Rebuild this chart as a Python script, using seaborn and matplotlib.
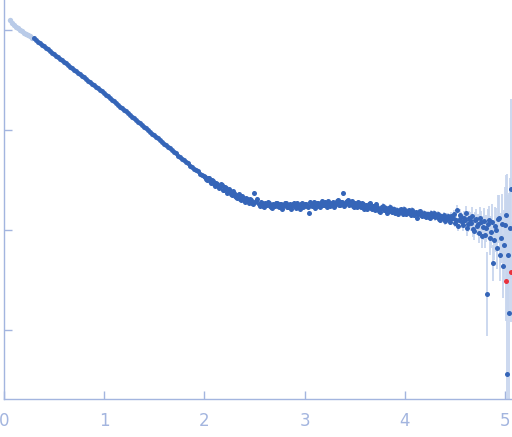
import numpy as np
import pandas as pd
import matplotlib
matplotlib.use("Agg")
import matplotlib.pyplot as plt
import seaborn as sns

# ---- data (q in nm^-1, log10 intensity, log10 error half-width) ----
q_light = [0.06, 0.08, 0.10, 0.12, 0.14, 0.16, 0.18, 0.20, 0.22, 0.24, 0.26, 0.28]
logI_light = [0.095, 0.065, 0.045, 0.030, 0.015, 0.000, -0.013, -0.027, -0.040, -0.052, -0.065, -0.078]

q_main = [
    0.30, 0.32, 0.34, 0.36, 0.38, 0.40, 0.42, 0.44, 0.46, 0.48,
    0.50, 0.52, 0.54, 0.56, 0.58, 0.60, 0.62, 0.64, 0.66, 0.68,
    0.70, 0.72, 0.74, 0.76, 0.78, 0.80, 0.82, 0.84, 0.86, 0.88,
    0.90, 0.92, 0.94, 0.96, 0.98, 1.00, 1.02, 1.04, 1.06, 1.08,
    1.10, 1.12, 1.14, 1.16, 1.18, 1.20, 1.22, 1.24, 1.26, 1.28,
    1.30, 1.32, 1.34, 1.36, 1.38, 1.40, 1.42, 1.44, 1.46, 1.48,
    1.50, 1.52, 1.54, 1.56, 1.58, 1.60, 1.62, 1.64, 1.66, 1.68,
    1.70, 1.72, 1.74, 1.76, 1.78, 1.80, 1.82, 1.84, 1.86, 1.88,
    1.90, 1.92, 1.94, 1.96, 1.98, 2.00, 2.02, 2.04, 2.06, 2.08,
    2.10, 2.12, 2.14, 2.16, 2.18, 2.20, 2.22, 2.24, 2.26, 2.28,
    2.30, 2.32, 2.34, 2.36, 2.38, 2.40, 2.42, 2.44, 2.46, 2.48,
    2.50, 2.52, 2.54, 2.56, 2.58, 2.60, 2.62, 2.64, 2.66, 2.68,
    2.70, 2.72, 2.74, 2.76, 2.78, 2.80, 2.82, 2.84, 2.86, 2.88,
    2.90, 2.92, 2.94, 2.96, 2.98, 3.00, 3.02, 3.04, 3.06, 3.08,
    3.10, 3.12, 3.14, 3.16, 3.18, 3.20, 3.22, 3.24, 3.26, 3.28,
    3.30, 3.32, 3.34, 3.36, 3.38, 3.40, 3.42, 3.44, 3.46, 3.48,
    3.50, 3.52, 3.54, 3.56, 3.58, 3.60, 3.62, 3.64, 3.66, 3.68,
    3.70, 3.72, 3.74, 3.76, 3.78, 3.80, 3.82, 3.84, 3.86, 3.88,
    3.90, 3.92, 3.94, 3.96, 3.98, 4.00, 4.02, 4.04, 4.06, 4.08,
    4.10, 4.12, 4.14, 4.16, 4.18, 4.20, 4.22, 4.24, 4.26, 4.28,
    4.30, 4.32, 4.34, 4.36, 4.38, 4.40, 4.42, 4.44, 4.46, 4.48,
    4.50, 4.52, 4.54, 4.56, 4.58, 4.60, 4.62, 4.64, 4.66, 4.68,
    4.70, 4.72, 4.74, 4.76, 4.78, 4.80, 4.82, 4.84, 4.86, 4.88,
    4.90, 4.92, 4.94, 4.96, 4.98, 5.00, 5.02, 5.04, 5.06,
]
logI_main = [
    -0.085, -0.100, -0.117, -0.131, -0.147, -0.163, -0.178, -0.195, -0.209, -0.226,
    -0.241, -0.257, -0.272, -0.289, -0.303, -0.319, -0.335, -0.350, -0.367, -0.381,
    -0.397, -0.413, -0.428, -0.445, -0.459, -0.475, -0.491, -0.506, -0.523, -0.537,
    -0.553, -0.569, -0.584, -0.601, -0.615, -0.631, -0.648, -0.664, -0.682, -0.698,
    -0.715, -0.733, -0.748, -0.766, -0.782, -0.800, -0.815, -0.834, -0.849, -0.867,
    -0.882, -0.901, -0.916, -0.934, -0.950, -0.968, -0.983, -1.002, -1.016, -1.036,
    -1.050, -1.069, -1.080, -1.104, -1.117, -1.136, -1.148, -1.172, -1.183, -1.203,
    -1.220, -1.232, -1.257, -1.268, -1.290, -1.300, -1.322, -1.335, -1.360, -1.366,
    -1.392, -1.404, -1.415, -1.440, -1.447, -1.465, -1.490, -1.478, -1.512, -1.505,
    -1.545, -1.528, -1.560, -1.575, -1.552, -1.600, -1.585, -1.620, -1.610, -1.655,
    -1.630, -1.672, -1.648, -1.690, -1.665, -1.700, -1.678, -1.715, -1.690, -1.735,
    -1.630, -1.712, -1.745, -1.720, -1.760, -1.728, -1.752, -1.735, -1.770, -1.738,
    -1.760, -1.735, -1.775, -1.745, -1.762, -1.730, -1.770, -1.748, -1.790, -1.742,
    -1.765, -1.732, -1.768, -1.745, -1.775, -1.738, -1.760, -1.830, -1.755, -1.740,
    -1.785, -1.728, -1.762, -1.735, -1.752, -1.725, -1.770, -1.738, -1.745, -1.720,
    -1.755, -1.712, -1.748, -1.725, -1.635, -1.740, -1.712, -1.755, -1.722, -1.760,
    -1.730, -1.768, -1.735, -1.775, -1.742, -1.760, -1.792, -1.745, -1.780, -1.760,
    -1.800, -1.770, -1.810, -1.778, -1.760, -1.798, -1.830, -1.785, -1.812, -1.795,
    -1.835, -1.802, -1.820, -1.795, -1.840, -1.815, -1.830, -1.805, -1.850, -1.820,
    -1.835, -1.880, -1.825, -1.850, -1.838, -1.860, -1.842, -1.870, -1.835, -1.858,
    -1.875, -1.850, -1.890, -1.860, -1.880, -1.915, -1.870, -1.895, -1.860, -1.880,
    -1.930, -1.800, -1.905, -1.870, -1.955, -1.900, -1.985, -1.880, -1.935, -1.990,
    -1.905, -1.960, -2.030, -1.920, -1.975, -2.050, -2.640, -1.900, -2.020, -2.330,
    -1.960, -2.180, -1.880, -2.080, -2.360, -1.950, -3.440, -2.830, -1.590,
]
err_main = [
    0.004, 0.004, 0.004, 0.004, 0.004, 0.004, 0.004, 0.004, 0.004, 0.004,
    0.004, 0.004, 0.004, 0.004, 0.004, 0.004, 0.004, 0.004, 0.004, 0.004,
    0.004, 0.004, 0.004, 0.004, 0.004, 0.004, 0.004, 0.004, 0.004, 0.004,
    0.004, 0.004, 0.004, 0.004, 0.004, 0.005, 0.005, 0.005, 0.005, 0.005,
    0.005, 0.005, 0.005, 0.005, 0.005, 0.006, 0.006, 0.006, 0.006, 0.006,
    0.006, 0.006, 0.006, 0.006, 0.006, 0.007, 0.007, 0.007, 0.007, 0.007,
    0.008, 0.008, 0.008, 0.008, 0.008, 0.009, 0.009, 0.009, 0.009, 0.009,
    0.010, 0.010, 0.010, 0.010, 0.010, 0.011, 0.011, 0.011, 0.011, 0.011,
    0.012, 0.012, 0.012, 0.012, 0.012, 0.013, 0.013, 0.013, 0.013, 0.013,
    0.014, 0.014, 0.014, 0.014, 0.014, 0.015, 0.015, 0.015, 0.015, 0.015,
    0.016, 0.016, 0.016, 0.016, 0.016, 0.017, 0.017, 0.017, 0.017, 0.017,
    0.018, 0.018, 0.018, 0.018, 0.018, 0.018, 0.018, 0.018, 0.018, 0.018,
    0.019, 0.019, 0.019, 0.019, 0.019, 0.019, 0.019, 0.019, 0.019, 0.019,
    0.020, 0.020, 0.020, 0.020, 0.020, 0.020, 0.020, 0.020, 0.020, 0.020,
    0.021, 0.021, 0.021, 0.021, 0.021, 0.021, 0.021, 0.021, 0.021, 0.021,
    0.022, 0.022, 0.022, 0.022, 0.022, 0.022, 0.022, 0.022, 0.022, 0.022,
    0.023, 0.023, 0.023, 0.023, 0.023, 0.024, 0.024, 0.024, 0.024, 0.024,
    0.025, 0.025, 0.025, 0.025, 0.025, 0.026, 0.026, 0.026, 0.026, 0.026,
    0.027, 0.027, 0.027, 0.027, 0.027, 0.028, 0.028, 0.028, 0.028, 0.028,
    0.030, 0.030, 0.030, 0.030, 0.030, 0.032, 0.032, 0.032, 0.032, 0.032,
    0.035, 0.035, 0.035, 0.035, 0.035, 0.038, 0.038, 0.038, 0.038, 0.038,
    0.045, 0.045, 0.050, 0.050, 0.060, 0.060, 0.070, 0.070, 0.080, 0.080,
    0.090, 0.095, 0.100, 0.110, 0.120, 0.130, 0.420, 0.140, 0.160, 0.180,
    0.190, 0.210, 0.230, 0.250, 0.320, 0.380, 2.000, 1.200, 0.900,
]

q_extra = [
    2.01, 2.03, 2.05, 2.07, 2.09, 2.11, 2.13, 2.15, 2.17, 2.19,
    2.21, 2.23, 2.25, 2.27, 2.29, 2.31, 2.33, 2.35, 2.37, 2.39,
    2.41, 2.43, 2.45, 2.47, 2.49, 2.51, 2.53, 2.55, 2.57, 2.59,
    2.61, 2.63, 2.65, 2.67, 2.69, 2.71, 2.73, 2.75, 2.77, 2.79,
    2.81, 2.83, 2.85, 2.87, 2.89, 2.91, 2.93, 2.95, 2.97, 2.99,
    3.01, 3.03, 3.05, 3.07, 3.09, 3.11, 3.13, 3.15, 3.17, 3.19,
    3.21, 3.23, 3.25, 3.27, 3.29, 3.31, 3.33, 3.35, 3.37, 3.39,
    3.41, 3.43, 3.45, 3.47, 3.49, 3.51, 3.53, 3.55, 3.57, 3.59,
    3.61, 3.63, 3.65, 3.67, 3.69, 3.71, 3.73, 3.75, 3.77, 3.79,
    3.81, 3.83, 3.85, 3.87, 3.89, 3.91, 3.93, 3.95, 3.97, 3.99,
    4.01, 4.03, 4.05, 4.07, 4.09, 4.11, 4.13, 4.15, 4.17, 4.19,
    4.21, 4.23, 4.25, 4.27, 4.29, 4.31, 4.33, 4.35, 4.37, 4.39,
    4.41, 4.43, 4.45, 4.47, 4.49, 4.51, 4.53, 4.55, 4.57, 4.59,
    4.61, 4.63, 4.65, 4.67, 4.69, 4.71, 4.73, 4.75, 4.77, 4.79,
    4.81, 4.83, 4.85, 4.87, 4.89, 4.91, 4.93, 4.95, 4.97, 4.99,
    5.01, 5.03, 5.05,
]
logI_extra = [
    -1.470, -1.500, -1.485, -1.530, -1.515, -1.560, -1.540, -1.585, -1.545, -1.600,
    -1.570, -1.635, -1.595, -1.640, -1.615, -1.660, -1.680, -1.640, -1.705, -1.680,
    -1.720, -1.690, -1.735, -1.700, -1.745, -1.725, -1.690, -1.760, -1.735, -1.775,
    -1.745, -1.725, -1.760, -1.780, -1.750, -1.730, -1.765, -1.745, -1.790, -1.755,
    -1.735, -1.775, -1.740, -1.765, -1.730, -1.780, -1.750, -1.790, -1.735, -1.760,
    -1.745, -1.775, -1.725, -1.765, -1.720, -1.750, -1.735, -1.770, -1.715, -1.755,
    -1.735, -1.710, -1.760, -1.728, -1.770, -1.735, -1.705, -1.755, -1.720, -1.765,
    -1.725, -1.700, -1.745, -1.715, -1.775, -1.740, -1.720, -1.760, -1.730, -1.790,
    -1.750, -1.775, -1.735, -1.795, -1.765, -1.745, -1.790, -1.820, -1.770, -1.805,
    -1.780, -1.810, -1.770, -1.825, -1.790, -1.815, -1.840, -1.800, -1.825, -1.790,
    -1.840, -1.810, -1.835, -1.800, -1.855, -1.825, -1.845, -1.815, -1.865, -1.830,
    -1.870, -1.840, -1.885, -1.850, -1.830, -1.865, -1.845, -1.900, -1.870, -1.850,
    -1.895, -1.860, -1.920, -1.880, -1.840, -1.905, -1.960, -1.850, -1.920, -1.880,
    -1.830, -1.945, -1.900, -1.860, -2.010, -1.890, -1.940, -1.880, -2.060, -1.910,
    -1.985, -1.940, -2.080, -1.920, -2.100, -2.000, -1.890, -2.250, -1.940, -2.150,
    -1.850, -2.250, -1.980,
]
err_extra = [
    0.013, 0.013, 0.013, 0.013, 0.013, 0.014, 0.014, 0.014, 0.014, 0.014,
    0.015, 0.015, 0.015, 0.015, 0.015, 0.016, 0.016, 0.016, 0.016, 0.016,
    0.017, 0.017, 0.017, 0.017, 0.017, 0.018, 0.018, 0.018, 0.018, 0.018,
    0.018, 0.018, 0.018, 0.018, 0.018, 0.019, 0.019, 0.019, 0.019, 0.019,
    0.019, 0.019, 0.019, 0.019, 0.019, 0.020, 0.020, 0.020, 0.020, 0.020,
    0.020, 0.020, 0.020, 0.020, 0.020, 0.021, 0.021, 0.021, 0.021, 0.021,
    0.021, 0.021, 0.021, 0.021, 0.021, 0.022, 0.022, 0.022, 0.022, 0.022,
    0.022, 0.022, 0.022, 0.022, 0.022, 0.023, 0.023, 0.023, 0.023, 0.023,
    0.023, 0.023, 0.023, 0.023, 0.023, 0.024, 0.024, 0.024, 0.024, 0.024,
    0.025, 0.025, 0.025, 0.025, 0.025, 0.026, 0.026, 0.026, 0.026, 0.026,
    0.027, 0.027, 0.027, 0.027, 0.027, 0.028, 0.028, 0.028, 0.028, 0.028,
    0.030, 0.030, 0.030, 0.030, 0.030, 0.032, 0.032, 0.032, 0.032, 0.032,
    0.035, 0.035, 0.035, 0.035, 0.035, 0.045, 0.050, 0.055, 0.060, 0.065,
    0.070, 0.075, 0.080, 0.085, 0.090, 0.095, 0.100, 0.110, 0.120, 0.130,
    0.140, 0.150, 0.170, 0.180, 0.200, 0.220, 0.240, 0.260, 0.300, 0.350,
    0.400, 0.600, 0.500,
]

q_flag = [5.01, 5.06]
logI_flag = [-2.510, -2.420]
err_flag = [0.400, 0.500]

# ---- styling ----
c_dark = "#3565b8"
c_light = "#b9cbe8"
c_err = "#c8d6ee"
c_red = "#e8323c"
c_axis = "#a3b5df"

sns.set_theme(style="white")
plt.rcParams["font.family"] = ["DejaVu Sans"]

fig = plt.figure(figsize=(5.12, 4.37), dpi=100)
ax = fig.add_axes([4 / 512, 38 / 437, 508 / 512, 399 / 437])

df = pd.DataFrame({"q": q_main + q_extra,
                   "I": 10 ** np.array(logI_main + logI_extra),
                   "e": err_main + err_extra})
dl = pd.DataFrame({"q": q_light, "I": 10 ** np.array(logI_light)})
dfl = pd.DataFrame({"q": q_flag, "I": 10 ** np.array(logI_flag), "e": err_flag})

ax.set_yscale("log")

# error bars
for d in (df, dfl):
    lo = d["I"] / 10 ** d["e"]
    hi = d["I"] * 10 ** d["e"]
    ax.vlines(d["q"], lo, hi, color=c_err, lw=1.3, zorder=1)

sns.scatterplot(data=dl, x="q", y="I", ax=ax, color=c_light, s=15,
                linewidth=0, zorder=2, legend=False)
sns.scatterplot(data=df, x="q", y="I", ax=ax, color=c_dark, s=13,
                linewidth=0, zorder=3, legend=False)
sns.scatterplot(data=dfl, x="q", y="I", ax=ax, color=c_red, s=13,
                linewidth=0, zorder=3, legend=False)

ax.set_xlim(0, 5.07)
ax.set_ylim(10 ** -3.69, 10 ** 0.30)
ax.set_xlabel("")
ax.set_ylabel("")

ax.set_xticks([0, 1, 2, 3, 4, 5])
ax.set_xticklabels(["0", "1", "2", "3", "4", "5"])
ax.set_yticks([1, 0.1, 0.01, 0.001])
ax.set_yticklabels([])
ax.yaxis.set_minor_locator(matplotlib.ticker.NullLocator())

for s in ("top", "right"):
    ax.spines[s].set_visible(False)
for s in ("left", "bottom"):
    ax.spines[s].set_color(c_axis)
    ax.spines[s].set_linewidth(1.0)

ax.tick_params(axis="both", direction="in", length=5.5, width=1.0,
               color=c_axis, labelcolor=c_axis, labelsize=12, pad=9,
               left=True, bottom=True)
ax.set_facecolor("white")

fig.savefig("out.png", dpi=100)
